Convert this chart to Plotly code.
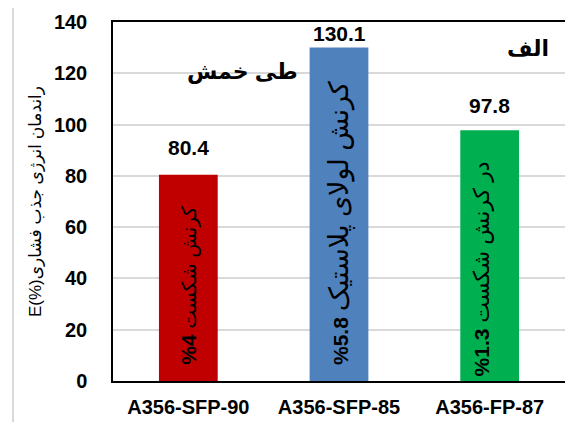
import plotly.graph_objects as go

# داده‌های نمودار
nomuneh = ['A356-SFP-90', 'A356-SFP-85', 'A356-FP-87']
randeman = [80.4, 130.1, 97.8]
barchasb_dakheli = [
    ('%4', 'کرنش شکست'),
    ('%5.8', 'کرنش لولای پلاستیک'),
    ('%1.3', 'در کرنش شکست'),
]
y_ticks = [0, 20, 40, 60, 80, 100, 120, 140]

rangha = ['#C00000', '#4F81BD', '#00B050']
font_asli = 'Arial, Liberation Sans, DejaVu Sans, sans-serif'

fig = go.Figure()

fig.add_trace(go.Bar(
    x=nomuneh,
    y=randeman,
    marker=dict(color=rangha, line=dict(width=0)),
    width=0.39,
    hoverinfo='skip',
))

# برچسب مقدار بالای ستون‌ها
shift_meghdar = [14, 0, 11]
for i, (n, v) in enumerate(zip(nomuneh, randeman)):
    fig.add_annotation(
        x=n, y=v, text=f'{v:.1f}', showarrow=False,
        yanchor='bottom', yshift=shift_meghdar[i],
        font=dict(size=21, color='black', family=font_asli, weight='bold'),
    )

# متن عمودی داخل ستون‌ها
andaze_farsi = [20, 27, 22]
for i, (n, (adad, matn)) in enumerate(zip(nomuneh, barchasb_dakheli)):
    txt = f'<b>{adad}</b> <span style="font-size:{andaze_farsi[i]}px">{matn}</span>'
    if i < 2:
        fig.add_annotation(
            x=n, y=0, text=txt, showarrow=False, textangle=-90,
            yanchor='bottom', yshift=14,
            font=dict(size=21, color='black', family=font_asli),
        )
    else:
        fig.add_annotation(
            x=n, y=randeman[i], text=txt, showarrow=False, textangle=-90,
            yanchor='top', yshift=-29, xshift=-8,
            font=dict(size=21, color='black', family=font_asli),
        )

# عنوان‌های داخل نمودار (جابجایی برای متن راست‌به‌چپ)
fig.add_annotation(
    xref='paper', yref='paper', x=0.159, y=0.9025, text='طی خمش',
    showarrow=False, font=dict(size=22, color='black', family=font_asli, weight='bold'),
)
fig.add_annotation(
    xref='paper', yref='paper', x=0.969, y=0.9666, text='الف',
    showarrow=False, font=dict(size=22, color='black', family=font_asli, weight='bold'),
)

# خط کادر بیرونی (سمت چپ)
fig.add_shape(
    type='line', xref='paper', yref='paper',
    x0=-0.2212, x1=-0.2212, y0=-0.114, y1=1.039,
    line=dict(color='#D9D9D9', width=2), layer='below',
)

fig.update_layout(
    width=557, height=414,
    margin=dict(l=105, r=0, t=14, b=41, autoexpand=False),
    paper_bgcolor='white',
    plot_bgcolor='white',
    showlegend=False,
    bargap=0.61,
    font=dict(family=font_asli, color='black'),
)

fig.update_xaxes(
    showline=True, linecolor='black', linewidth=1.5, mirror=True,
    tickfont=dict(size=20, color='black', weight='bold'),
    ticks='', ticklabelstandoff=7, automargin=False,
)
fig.update_yaxes(
    range=[0, 140], tickvals=y_ticks,
    showline=True, linecolor='black', linewidth=1.5, mirror=True,
    showgrid=True, gridcolor='#D9D9D9', gridwidth=1.5,
    tickfont=dict(size=20, color='black', weight='bold'),
    ticks='', ticklabelstandoff=20, automargin=False,
    zeroline=False,
    title=dict(text='E(%)راندمان انرژی جذب فشاری',
               font=dict(size=17, color='black'), standoff=8),
)

fig.write_html('out.html')
